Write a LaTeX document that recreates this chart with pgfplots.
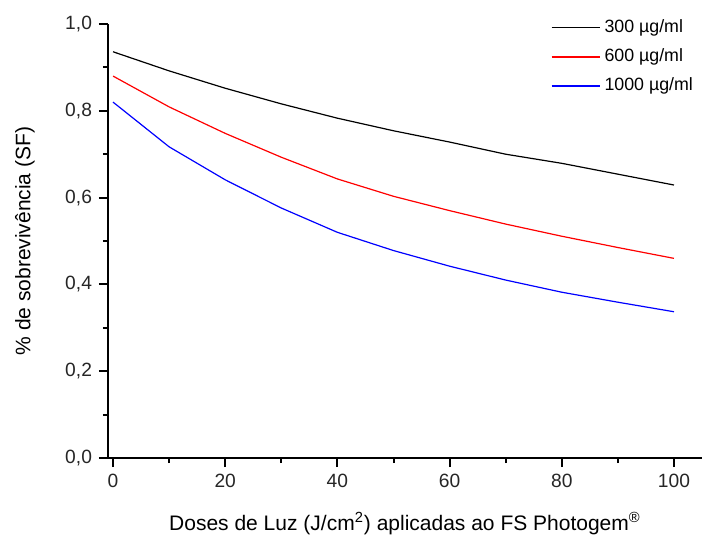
\documentclass[border=0pt]{standalone}
\usepackage{fontspec}
\setmainfont{Liberation Sans}
\usepackage{pgfplots}
\pgfplotsset{compat=1.18}
\definecolor{myblue}{RGB}{0,0,255}
\definecolor{myred}{RGB}{255,0,0}
\begin{document}
\begin{tikzpicture}
\useasboundingbox (-54pt,-40pt) rectangle (297pt,229pt);
\begin{axis}[
  scale only axis, width=297pt, height=217pt,
  xmin=-0.9, xmax=105, ymin=0, ymax=1.0,
  axis x line*=bottom, axis y line*=left,
  axis line style={line width=1pt},
  tick style={line width=1pt, black},
  tick align=outside,
  major tick length=4.5pt, minor tick length=2.5pt,
  xtick={0,20,40,60,80,100}, ytick={0,0.2,0.4,0.6,0.8,1.0},
  minor x tick num=1, minor y tick num=1,
  /pgf/number format/assume math mode=true,
  yticklabel style={/pgf/number format/.cd, use comma, fixed, fixed zerofill, precision=1},
  tick label style={font=\fontsize{9.6}{11}\selectfont, text=black!85},
  xlabel={Doses de Luz (J/cm\textsuperscript{2}) aplicadas ao FS Photogem\textsuperscript{®}},
  ylabel={\% de sobrevivência (SF)},
  label style={font=\fontsize{10.5}{12}\selectfont},
  xlabel style={at={(axis description cs:0.5,-0.152)}, anchor=center},
  ylabel style={at={(axis description cs:-0.14,0.5)}, anchor=center},
  legend style={draw=none, fill=none, at={(rel axis cs:0.745,1.02)}, anchor=north west,
    font=\fontsize{8.9}{10}\selectfont, row sep=2.6pt, inner sep=0pt},
  legend cell align=left,
  legend image code/.code={\draw[#1, line width=0.8pt] (0pt,0pt) -- (24pt,0pt);},
]
\addplot[draw=black, line width=0.6pt] coordinates {
(0,0.936) (10,0.892) (20,0.852) (30,0.816) (40,0.783) (50,0.754) (60,0.728) (70,0.700) (80,0.679) (90,0.654) (100,0.629)};
\addlegendentry{300 µg/ml}
\addplot[draw=myred, line width=0.6pt] coordinates {
(0,0.880) (10,0.809) (20,0.748) (30,0.693) (40,0.643) (50,0.603) (60,0.570) (70,0.539) (80,0.511) (90,0.485) (100,0.460)};
\addlegendentry{600 µg/ml}
\addplot[draw=myblue, line width=0.6pt] coordinates {
(0,0.820) (10,0.717) (20,0.641) (30,0.576) (40,0.520) (50,0.478) (60,0.442) (70,0.410) (80,0.382) (90,0.359) (100,0.337)};
\addlegendentry{1000 µg/ml}
\end{axis}
\end{tikzpicture}
\end{document}
